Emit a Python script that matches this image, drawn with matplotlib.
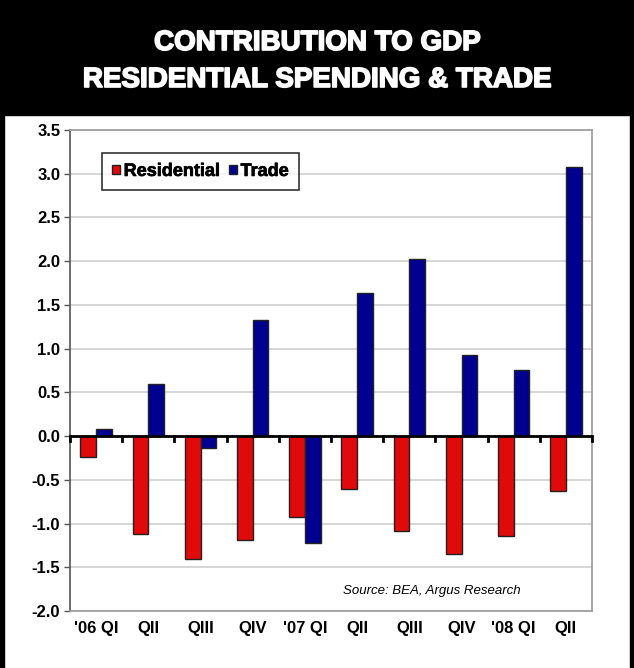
import matplotlib.pyplot as plt
import matplotlib.patheffects as pe
import numpy as np
from matplotlib.patches import Rectangle

plt.rcParams.update({
    "font.family": ["Liberation Sans", "DejaVu Sans"],
    "font.weight": "bold",
})

quarters = ["'06 QI", "QII", "QIII", "QIV", "'07 QI", "QII", "QIII", "QIV", "'08 QI", "QII"]
residential = [-0.24, -1.12, -1.41, -1.19, -0.93, -0.61, -1.08, -1.35, -1.14, -0.63]
trade = [0.08, 0.59, -0.14, 1.33, -1.22, 1.64, 2.03, 0.93, 0.76, 3.08]

RED = "#e00a0a"
BLUE = "#000090"
GRID = "#cfcfcf"
FRAME = "#9a9a9a"

W, H = 634, 668
fig = plt.figure(figsize=(W / 100, H / 100), dpi=100)

# black header and side borders
fig.patches.append(Rectangle((0, 1 - 115 / H), 1, 115 / H, transform=fig.transFigure,
                             color="black", zorder=0))
fig.patches.append(Rectangle((0, 0), 4 / W, 1, transform=fig.transFigure, color="black", zorder=0))
fig.patches.append(Rectangle((1 - 4 / W, 0), 4 / W, 1, transform=fig.transFigure, color="black", zorder=0))

heavy = [pe.withStroke(linewidth=1.2, foreground="white")]
fig.text(0.5, 1 - 43 / H, "CONTRIBUTION TO GDP", color="white", ha="center", va="center",
         fontsize=20, fontweight="bold", path_effects=heavy)
fig.text(0.5, 1 - 80 / H, "RESIDENTIAL SPENDING & TRADE", color="white", ha="center",
         va="center", fontsize=20, fontweight="bold", path_effects=heavy)

# plot area in pixels: x 70..592, y 130..611
ax = fig.add_axes([70 / W, 1 - 611 / H, (592 - 70) / W, (611 - 130) / H])

x = np.arange(len(quarters))
width = 0.3
ax.bar(x - width / 2, residential, width, color=RED, edgecolor="#222222", linewidth=1.0,
       label="Residential", zorder=3)
ax.bar(x + width / 2, trade, width, color=BLUE, edgecolor="#222222", linewidth=1.0,
       label="Trade", zorder=3)

ax.set_xlim(-0.5, len(quarters) - 0.5)
ax.set_ylim(-2.0, 3.5)
ax.set_yticks(np.arange(-2.0, 3.51, 0.5))
ax.set_yticklabels([f"{v:.1f}" for v in np.arange(-2.0, 3.51, 0.5)], fontsize=12,
                   fontweight="bold")
ax.yaxis.grid(True, color=GRID, linewidth=1.2, zorder=0)
ax.set_axisbelow(True)
ax.tick_params(axis="y", length=4, width=1, color="#555555", pad=3)

ax.set_xticks(x)
ax.set_xticklabels(quarters, fontsize=12, fontweight="bold")
ax.tick_params(axis="x", length=0, pad=7)

# zero line with category ticks
ax.axhline(0, color="black", linewidth=2, zorder=4)
for b in np.arange(-0.5, len(quarters) + 0.5, 1.0):
    ax.plot([b, b], [-0.06, 0.0], color="black", linewidth=2, zorder=4, clip_on=False)

for side in ["top", "right", "bottom"]:
    ax.spines[side].set_color(FRAME)
    ax.spines[side].set_linewidth(1.2)
ax.spines["left"].set_color("#555555")
ax.spines["left"].set_linewidth(1.2)

leg = ax.legend(loc="upper left", bbox_to_anchor=((102 - 70) / 522, 1 - (153 - 130) / 481),
                ncol=2, frameon=True, fancybox=False, handlelength=0.45, handleheight=0.45,
                handletextpad=0.2, columnspacing=0.5, borderpad=0.55, borderaxespad=0,
                prop={"size": 13, "weight": "bold"})
leg.get_frame().set_edgecolor("black")
leg.get_frame().set_linewidth(1.2)
for txt in leg.get_texts():
    txt.set_path_effects([pe.withStroke(linewidth=0.5, foreground="black")])

ax.text(0.693, 0.042, "Source: BEA, Argus Research", transform=ax.transAxes, ha="center",
        va="center", fontsize=9.5, fontstyle="italic", fontweight="normal")

fig.savefig("out.png", dpi=100)
